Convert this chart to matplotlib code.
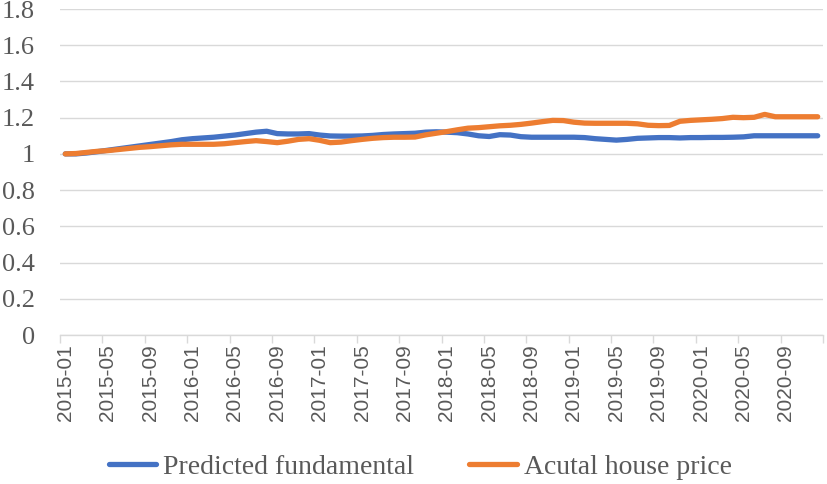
import matplotlib
matplotlib.use("Agg")
import matplotlib.pyplot as plt
from matplotlib.ticker import FuncFormatter, FixedLocator
import numpy as np

months = [f"{y}-{m:02d}" for y in range(2015, 2021) for m in range(1, 13)]

predicted = [
    1.000, 1.000, 1.005, 1.012, 1.020, 1.028, 1.036, 1.044, 1.052, 1.060, 1.068, 1.078,
    1.084, 1.088, 1.092, 1.098, 1.104, 1.112, 1.120, 1.125, 1.112, 1.110, 1.110, 1.112,
    1.104, 1.099, 1.098, 1.098, 1.099, 1.102, 1.107, 1.110, 1.112, 1.114, 1.120, 1.122,
    1.120, 1.117, 1.110, 1.100, 1.096, 1.106, 1.104, 1.095, 1.092, 1.092, 1.092, 1.092,
    1.092, 1.090, 1.084, 1.080, 1.076, 1.080, 1.086, 1.088, 1.090, 1.090, 1.088, 1.090,
    1.090, 1.091, 1.091, 1.092, 1.094, 1.100, 1.100, 1.100, 1.100, 1.100, 1.100, 1.100,
]
actual = [
    1.000, 1.002, 1.008, 1.014, 1.018, 1.024, 1.030, 1.036, 1.040, 1.045, 1.050, 1.053,
    1.053, 1.053, 1.053, 1.056, 1.062, 1.068, 1.073, 1.068, 1.062, 1.070, 1.080, 1.084,
    1.075, 1.062, 1.065, 1.073, 1.080, 1.086, 1.090, 1.092, 1.092, 1.093, 1.105, 1.114,
    1.123, 1.133, 1.142, 1.145, 1.150, 1.155, 1.158, 1.163, 1.170, 1.178, 1.185, 1.184,
    1.175, 1.170, 1.169, 1.169, 1.169, 1.169, 1.166, 1.158, 1.156, 1.157, 1.180, 1.185,
    1.188, 1.191, 1.195, 1.202, 1.200, 1.202, 1.218, 1.205, 1.205, 1.205, 1.205, 1.205,
]
series_names = ["Predicted fundamental", "Acutal house price"]
y_ticks = [0, 0.2, 0.4, 0.6, 0.8, 1.0, 1.2, 1.4, 1.6, 1.8]

fig = plt.figure(figsize=(8.27, 4.84), dpi=100)
ax = fig.add_axes([60/827, 1-335/484, (823-60)/827, (335-9)/484])

x = np.arange(len(months))
ax.plot(x, predicted, color="#4472C4", lw=3.8, solid_capstyle="round", label=series_names[0])
ax.plot(x, actual, color="#ED7D31", lw=3.8, solid_capstyle="round", label=series_names[1])

ax.set_xlim(-0.5, len(months) - 0.5)
ax.set_ylim(0, 1.8)
ax.set_yticks(y_ticks)
ax.yaxis.set_major_formatter(FuncFormatter(lambda v, p: f"{v:g}"))
ax.grid(axis="y", color="#d9d9d9", lw=1.0)
ax.set_axisbelow(True)

for s in ["left", "right", "top"]:
    ax.spines[s].set_visible(False)
ax.spines["bottom"].set_color("#d9d9d9")
ax.spines["bottom"].set_linewidth(1.0)

ax.set_xticks(x[::4])
ax.set_xticklabels(months[::4], rotation=90, family="Liberation Sans", fontsize=15, color="#595959")
ax.xaxis.set_minor_locator(FixedLocator(np.arange(-0.5, len(months), 4)))
ax.tick_params(axis="x", which="major", length=0, pad=7)
ax.tick_params(axis="x", which="minor", length=6, color="#d9d9d9", width=1.0)
ax.tick_params(axis="y", length=0, pad=18)
for lab in ax.get_yticklabels():
    lab.set_family("Liberation Serif")
    lab.set_fontsize(19)
    lab.set_color("#595959")

fig.legend(loc="center", bbox_to_anchor=(0.508, 0.035), ncol=2, frameon=False,
           prop={"family": "Liberation Serif", "size": 20}, handlelength=1.7,
           columnspacing=2.0, handletextpad=0.25)
for t in fig.legends[0].get_texts():
    t.set_color("#595959")

fig.savefig("out.png", dpi=100)
